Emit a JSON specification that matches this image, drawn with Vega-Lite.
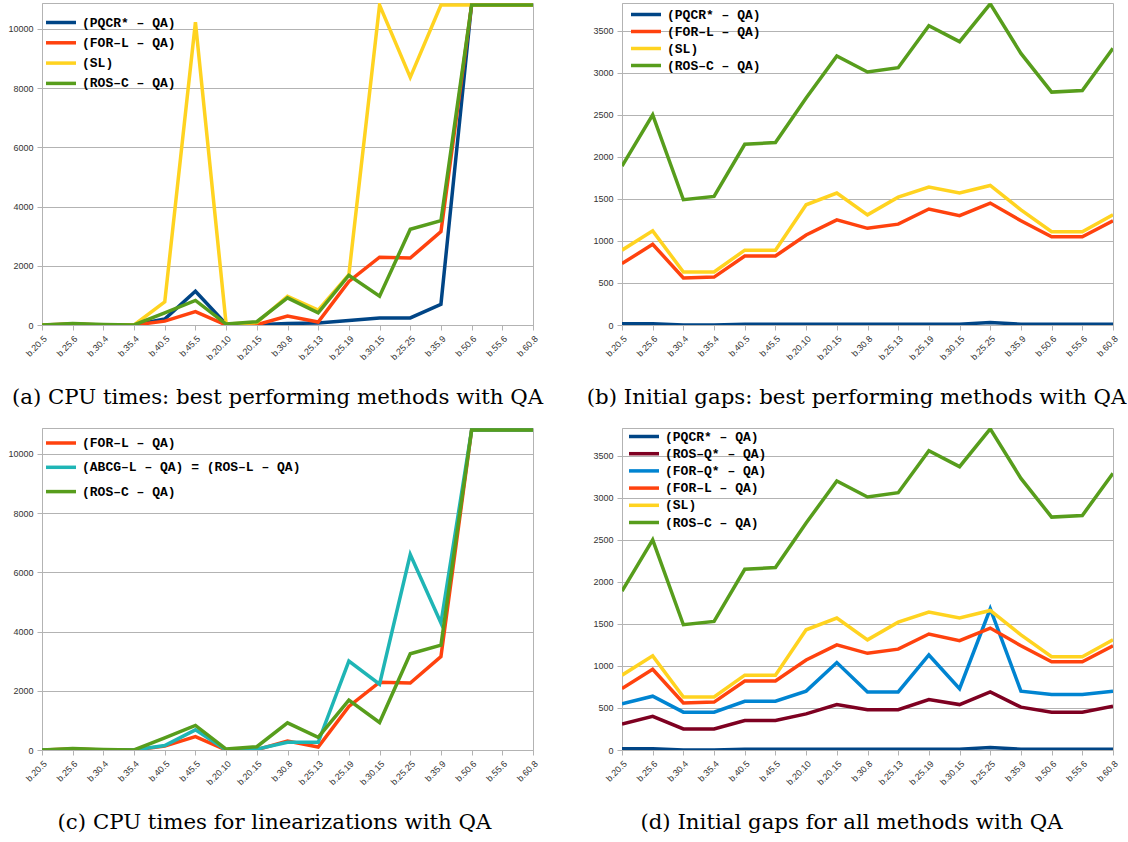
{
"$schema": "https://vega.github.io/schema/vega-lite/v6.json",
"background": "white",
"padding": {"left": 7, "top": 2, "right": 0, "bottom": 5},
"columns": 2,
"spacing": {"row": 103, "column": 89},
"bounds": "flush",
"resolve": {"scale": {"color": "independent", "x": "independent", "y": "independent"}, "legend": {"color": "independent"}},
"datasets": {
"a": [
{"c":"b.20.5","s":"(PQCR* – QA)","v":0},{"c":"b.25.6","s":"(PQCR* – QA)","v":20},{"c":"b.30.4","s":"(PQCR* – QA)","v":0},{"c":"b.35.4","s":"(PQCR* – QA)","v":0},{"c":"b.40.5","s":"(PQCR* – QA)","v":200},{"c":"b.45.5","s":"(PQCR* – QA)","v":1140},{"c":"b.20.10","s":"(PQCR* – QA)","v":30},{"c":"b.20.15","s":"(PQCR* – QA)","v":10},{"c":"b.30.8","s":"(PQCR* – QA)","v":50},{"c":"b.25.13","s":"(PQCR* – QA)","v":70},{"c":"b.25.19","s":"(PQCR* – QA)","v":150},{"c":"b.30.15","s":"(PQCR* – QA)","v":240},{"c":"b.25.25","s":"(PQCR* – QA)","v":240},{"c":"b.35.9","s":"(PQCR* – QA)","v":700},{"c":"b.50.6","s":"(PQCR* – QA)","v":10850},{"c":"b.55.6","s":"(PQCR* – QA)","v":10850},{"c":"b.60.8","s":"(PQCR* – QA)","v":10800},
{"c":"b.20.5","s":"(FOR–L – QA)","v":0},{"c":"b.25.6","s":"(FOR–L – QA)","v":30},{"c":"b.30.4","s":"(FOR–L – QA)","v":0},{"c":"b.35.4","s":"(FOR–L – QA)","v":0},{"c":"b.40.5","s":"(FOR–L – QA)","v":130},{"c":"b.45.5","s":"(FOR–L – QA)","v":450},{"c":"b.20.10","s":"(FOR–L – QA)","v":0},{"c":"b.20.15","s":"(FOR–L – QA)","v":10},{"c":"b.30.8","s":"(FOR–L – QA)","v":300},{"c":"b.25.13","s":"(FOR–L – QA)","v":100},{"c":"b.25.19","s":"(FOR–L – QA)","v":1470},{"c":"b.30.15","s":"(FOR–L – QA)","v":2290},{"c":"b.25.25","s":"(FOR–L – QA)","v":2260},{"c":"b.35.9","s":"(FOR–L – QA)","v":3150},{"c":"b.50.6","s":"(FOR–L – QA)","v":10800},{"c":"b.55.6","s":"(FOR–L – QA)","v":10800},{"c":"b.60.8","s":"(FOR–L – QA)","v":10800},
{"c":"b.20.5","s":"(SL)","v":0},{"c":"b.25.6","s":"(SL)","v":20},{"c":"b.30.4","s":"(SL)","v":0},{"c":"b.35.4","s":"(SL)","v":0},{"c":"b.40.5","s":"(SL)","v":780},{"c":"b.45.5","s":"(SL)","v":10220},{"c":"b.20.10","s":"(SL)","v":30},{"c":"b.20.15","s":"(SL)","v":80},{"c":"b.30.8","s":"(SL)","v":970},{"c":"b.25.13","s":"(SL)","v":500},{"c":"b.25.19","s":"(SL)","v":1700},{"c":"b.30.15","s":"(SL)","v":10800},{"c":"b.25.25","s":"(SL)","v":8360},{"c":"b.35.9","s":"(SL)","v":10800},{"c":"b.50.6","s":"(SL)","v":10800},{"c":"b.55.6","s":"(SL)","v":10800},{"c":"b.60.8","s":"(SL)","v":10800},
{"c":"b.20.5","s":"(ROS–C – QA)","v":0},{"c":"b.25.6","s":"(ROS–C – QA)","v":50},{"c":"b.30.4","s":"(ROS–C – QA)","v":20},{"c":"b.35.4","s":"(ROS–C – QA)","v":0},{"c":"b.40.5","s":"(ROS–C – QA)","v":410},{"c":"b.45.5","s":"(ROS–C – QA)","v":830},{"c":"b.20.10","s":"(ROS–C – QA)","v":30},{"c":"b.20.15","s":"(ROS–C – QA)","v":110},{"c":"b.30.8","s":"(ROS–C – QA)","v":915},{"c":"b.25.13","s":"(ROS–C – QA)","v":410},{"c":"b.25.19","s":"(ROS–C – QA)","v":1680},{"c":"b.30.15","s":"(ROS–C – QA)","v":975},{"c":"b.25.25","s":"(ROS–C – QA)","v":3230},{"c":"b.35.9","s":"(ROS–C – QA)","v":3520},{"c":"b.50.6","s":"(ROS–C – QA)","v":10800},{"c":"b.55.6","s":"(ROS–C – QA)","v":10800},{"c":"b.60.8","s":"(ROS–C – QA)","v":10800}
],
"b": [
{"c":"b.20.5","s":"(PQCR* – QA)","v":15},{"c":"b.25.6","s":"(PQCR* – QA)","v":15},{"c":"b.30.4","s":"(PQCR* – QA)","v":0},{"c":"b.35.4","s":"(PQCR* – QA)","v":0},{"c":"b.40.5","s":"(PQCR* – QA)","v":10},{"c":"b.45.5","s":"(PQCR* – QA)","v":10},{"c":"b.20.10","s":"(PQCR* – QA)","v":10},{"c":"b.20.15","s":"(PQCR* – QA)","v":10},{"c":"b.30.8","s":"(PQCR* – QA)","v":10},{"c":"b.25.13","s":"(PQCR* – QA)","v":10},{"c":"b.25.19","s":"(PQCR* – QA)","v":10},{"c":"b.30.15","s":"(PQCR* – QA)","v":10},{"c":"b.25.25","s":"(PQCR* – QA)","v":30},{"c":"b.35.9","s":"(PQCR* – QA)","v":10},{"c":"b.50.6","s":"(PQCR* – QA)","v":10},{"c":"b.55.6","s":"(PQCR* – QA)","v":10},{"c":"b.60.8","s":"(PQCR* – QA)","v":10},
{"c":"b.20.5","s":"(FOR–L – QA)","v":730},{"c":"b.25.6","s":"(FOR–L – QA)","v":960},{"c":"b.30.4","s":"(FOR–L – QA)","v":560},{"c":"b.35.4","s":"(FOR–L – QA)","v":570},{"c":"b.40.5","s":"(FOR–L – QA)","v":820},{"c":"b.45.5","s":"(FOR–L – QA)","v":820},{"c":"b.20.10","s":"(FOR–L – QA)","v":1070},{"c":"b.20.15","s":"(FOR–L – QA)","v":1250},{"c":"b.30.8","s":"(FOR–L – QA)","v":1150},{"c":"b.25.13","s":"(FOR–L – QA)","v":1200},{"c":"b.25.19","s":"(FOR–L – QA)","v":1380},{"c":"b.30.15","s":"(FOR–L – QA)","v":1300},{"c":"b.25.25","s":"(FOR–L – QA)","v":1450},{"c":"b.35.9","s":"(FOR–L – QA)","v":1240},{"c":"b.50.6","s":"(FOR–L – QA)","v":1050},{"c":"b.55.6","s":"(FOR–L – QA)","v":1050},{"c":"b.60.8","s":"(FOR–L – QA)","v":1240},
{"c":"b.20.5","s":"(SL)","v":890},{"c":"b.25.6","s":"(SL)","v":1120},{"c":"b.30.4","s":"(SL)","v":630},{"c":"b.35.4","s":"(SL)","v":630},{"c":"b.40.5","s":"(SL)","v":890},{"c":"b.45.5","s":"(SL)","v":890},{"c":"b.20.10","s":"(SL)","v":1430},{"c":"b.20.15","s":"(SL)","v":1570},{"c":"b.30.8","s":"(SL)","v":1310},{"c":"b.25.13","s":"(SL)","v":1520},{"c":"b.25.19","s":"(SL)","v":1640},{"c":"b.30.15","s":"(SL)","v":1570},{"c":"b.25.25","s":"(SL)","v":1660},{"c":"b.35.9","s":"(SL)","v":1370},{"c":"b.50.6","s":"(SL)","v":1110},{"c":"b.55.6","s":"(SL)","v":1110},{"c":"b.60.8","s":"(SL)","v":1310},
{"c":"b.20.5","s":"(ROS–C – QA)","v":1890},{"c":"b.25.6","s":"(ROS–C – QA)","v":2500},{"c":"b.30.4","s":"(ROS–C – QA)","v":1490},{"c":"b.35.4","s":"(ROS–C – QA)","v":1530},{"c":"b.40.5","s":"(ROS–C – QA)","v":2150},{"c":"b.45.5","s":"(ROS–C – QA)","v":2170},{"c":"b.20.10","s":"(ROS–C – QA)","v":2700},{"c":"b.20.15","s":"(ROS–C – QA)","v":3200},{"c":"b.30.8","s":"(ROS–C – QA)","v":3010},{"c":"b.25.13","s":"(ROS–C – QA)","v":3060},{"c":"b.25.19","s":"(ROS–C – QA)","v":3560},{"c":"b.30.15","s":"(ROS–C – QA)","v":3370},{"c":"b.25.25","s":"(ROS–C – QA)","v":3820},{"c":"b.35.9","s":"(ROS–C – QA)","v":3230},{"c":"b.50.6","s":"(ROS–C – QA)","v":2770},{"c":"b.55.6","s":"(ROS–C – QA)","v":2790},{"c":"b.60.8","s":"(ROS–C – QA)","v":3290}
],
"c": [
{"c":"b.20.5","s":"(FOR–L – QA)","v":0},{"c":"b.25.6","s":"(FOR–L – QA)","v":30},{"c":"b.30.4","s":"(FOR–L – QA)","v":0},{"c":"b.35.4","s":"(FOR–L – QA)","v":0},{"c":"b.40.5","s":"(FOR–L – QA)","v":130},{"c":"b.45.5","s":"(FOR–L – QA)","v":450},{"c":"b.20.10","s":"(FOR–L – QA)","v":0},{"c":"b.20.15","s":"(FOR–L – QA)","v":10},{"c":"b.30.8","s":"(FOR–L – QA)","v":300},{"c":"b.25.13","s":"(FOR–L – QA)","v":100},{"c":"b.25.19","s":"(FOR–L – QA)","v":1470},{"c":"b.30.15","s":"(FOR–L – QA)","v":2290},{"c":"b.25.25","s":"(FOR–L – QA)","v":2260},{"c":"b.35.9","s":"(FOR–L – QA)","v":3150},{"c":"b.50.6","s":"(FOR–L – QA)","v":10800},{"c":"b.55.6","s":"(FOR–L – QA)","v":10800},{"c":"b.60.8","s":"(FOR–L – QA)","v":10800},
{"c":"b.20.5","s":"(ABCG–L – QA) = (ROS–L – QA)","v":0},{"c":"b.25.6","s":"(ABCG–L – QA) = (ROS–L – QA)","v":0},{"c":"b.30.4","s":"(ABCG–L – QA) = (ROS–L – QA)","v":0},{"c":"b.35.4","s":"(ABCG–L – QA) = (ROS–L – QA)","v":0},{"c":"b.40.5","s":"(ABCG–L – QA) = (ROS–L – QA)","v":150},{"c":"b.45.5","s":"(ABCG–L – QA) = (ROS–L – QA)","v":680},{"c":"b.20.10","s":"(ABCG–L – QA) = (ROS–L – QA)","v":0},{"c":"b.20.15","s":"(ABCG–L – QA) = (ROS–L – QA)","v":30},{"c":"b.30.8","s":"(ABCG–L – QA) = (ROS–L – QA)","v":260},{"c":"b.25.13","s":"(ABCG–L – QA) = (ROS–L – QA)","v":260},{"c":"b.25.19","s":"(ABCG–L – QA) = (ROS–L – QA)","v":3000},{"c":"b.30.15","s":"(ABCG–L – QA) = (ROS–L – QA)","v":2220},{"c":"b.25.25","s":"(ABCG–L – QA) = (ROS–L – QA)","v":6600},{"c":"b.35.9","s":"(ABCG–L – QA) = (ROS–L – QA)","v":4290},{"c":"b.50.6","s":"(ABCG–L – QA) = (ROS–L – QA)","v":10800},{"c":"b.55.6","s":"(ABCG–L – QA) = (ROS–L – QA)","v":10800},{"c":"b.60.8","s":"(ABCG–L – QA) = (ROS–L – QA)","v":10800},
{"c":"b.20.5","s":"(ROS–C – QA)","v":0},{"c":"b.25.6","s":"(ROS–C – QA)","v":50},{"c":"b.30.4","s":"(ROS–C – QA)","v":20},{"c":"b.35.4","s":"(ROS–C – QA)","v":0},{"c":"b.40.5","s":"(ROS–C – QA)","v":410},{"c":"b.45.5","s":"(ROS–C – QA)","v":830},{"c":"b.20.10","s":"(ROS–C – QA)","v":30},{"c":"b.20.15","s":"(ROS–C – QA)","v":110},{"c":"b.30.8","s":"(ROS–C – QA)","v":915},{"c":"b.25.13","s":"(ROS–C – QA)","v":430},{"c":"b.25.19","s":"(ROS–C – QA)","v":1685},{"c":"b.30.15","s":"(ROS–C – QA)","v":930},{"c":"b.25.25","s":"(ROS–C – QA)","v":3250},{"c":"b.35.9","s":"(ROS–C – QA)","v":3540},{"c":"b.50.6","s":"(ROS–C – QA)","v":10800},{"c":"b.55.6","s":"(ROS–C – QA)","v":10800},{"c":"b.60.8","s":"(ROS–C – QA)","v":10800}
],
"d": [
{"c":"b.20.5","s":"(PQCR* – QA)","v":15},{"c":"b.25.6","s":"(PQCR* – QA)","v":15},{"c":"b.30.4","s":"(PQCR* – QA)","v":0},{"c":"b.35.4","s":"(PQCR* – QA)","v":0},{"c":"b.40.5","s":"(PQCR* – QA)","v":10},{"c":"b.45.5","s":"(PQCR* – QA)","v":10},{"c":"b.20.10","s":"(PQCR* – QA)","v":10},{"c":"b.20.15","s":"(PQCR* – QA)","v":10},{"c":"b.30.8","s":"(PQCR* – QA)","v":10},{"c":"b.25.13","s":"(PQCR* – QA)","v":10},{"c":"b.25.19","s":"(PQCR* – QA)","v":10},{"c":"b.30.15","s":"(PQCR* – QA)","v":10},{"c":"b.25.25","s":"(PQCR* – QA)","v":30},{"c":"b.35.9","s":"(PQCR* – QA)","v":10},{"c":"b.50.6","s":"(PQCR* – QA)","v":10},{"c":"b.55.6","s":"(PQCR* – QA)","v":10},{"c":"b.60.8","s":"(PQCR* – QA)","v":10},
{"c":"b.20.5","s":"(ROS–Q* – QA)","v":310},{"c":"b.25.6","s":"(ROS–Q* – QA)","v":400},{"c":"b.30.4","s":"(ROS–Q* – QA)","v":250},{"c":"b.35.4","s":"(ROS–Q* – QA)","v":250},{"c":"b.40.5","s":"(ROS–Q* – QA)","v":350},{"c":"b.45.5","s":"(ROS–Q* – QA)","v":350},{"c":"b.20.10","s":"(ROS–Q* – QA)","v":430},{"c":"b.20.15","s":"(ROS–Q* – QA)","v":540},{"c":"b.30.8","s":"(ROS–Q* – QA)","v":480},{"c":"b.25.13","s":"(ROS–Q* – QA)","v":480},{"c":"b.25.19","s":"(ROS–Q* – QA)","v":600},{"c":"b.30.15","s":"(ROS–Q* – QA)","v":540},{"c":"b.25.25","s":"(ROS–Q* – QA)","v":690},{"c":"b.35.9","s":"(ROS–Q* – QA)","v":510},{"c":"b.50.6","s":"(ROS–Q* – QA)","v":450},{"c":"b.55.6","s":"(ROS–Q* – QA)","v":450},{"c":"b.60.8","s":"(ROS–Q* – QA)","v":520},
{"c":"b.20.5","s":"(FOR–Q* – QA)","v":550},{"c":"b.25.6","s":"(FOR–Q* – QA)","v":640},{"c":"b.30.4","s":"(FOR–Q* – QA)","v":450},{"c":"b.35.4","s":"(FOR–Q* – QA)","v":450},{"c":"b.40.5","s":"(FOR–Q* – QA)","v":580},{"c":"b.45.5","s":"(FOR–Q* – QA)","v":580},{"c":"b.20.10","s":"(FOR–Q* – QA)","v":700},{"c":"b.20.15","s":"(FOR–Q* – QA)","v":1040},{"c":"b.30.8","s":"(FOR–Q* – QA)","v":690},{"c":"b.25.13","s":"(FOR–Q* – QA)","v":690},{"c":"b.25.19","s":"(FOR–Q* – QA)","v":1130},{"c":"b.30.15","s":"(FOR–Q* – QA)","v":730},{"c":"b.25.25","s":"(FOR–Q* – QA)","v":1680},{"c":"b.35.9","s":"(FOR–Q* – QA)","v":700},{"c":"b.50.6","s":"(FOR–Q* – QA)","v":660},{"c":"b.55.6","s":"(FOR–Q* – QA)","v":660},{"c":"b.60.8","s":"(FOR–Q* – QA)","v":700},
{"c":"b.20.5","s":"(FOR–L – QA)","v":730},{"c":"b.25.6","s":"(FOR–L – QA)","v":960},{"c":"b.30.4","s":"(FOR–L – QA)","v":560},{"c":"b.35.4","s":"(FOR–L – QA)","v":570},{"c":"b.40.5","s":"(FOR–L – QA)","v":820},{"c":"b.45.5","s":"(FOR–L – QA)","v":820},{"c":"b.20.10","s":"(FOR–L – QA)","v":1070},{"c":"b.20.15","s":"(FOR–L – QA)","v":1250},{"c":"b.30.8","s":"(FOR–L – QA)","v":1150},{"c":"b.25.13","s":"(FOR–L – QA)","v":1200},{"c":"b.25.19","s":"(FOR–L – QA)","v":1380},{"c":"b.30.15","s":"(FOR–L – QA)","v":1300},{"c":"b.25.25","s":"(FOR–L – QA)","v":1450},{"c":"b.35.9","s":"(FOR–L – QA)","v":1240},{"c":"b.50.6","s":"(FOR–L – QA)","v":1050},{"c":"b.55.6","s":"(FOR–L – QA)","v":1050},{"c":"b.60.8","s":"(FOR–L – QA)","v":1240},
{"c":"b.20.5","s":"(SL)","v":890},{"c":"b.25.6","s":"(SL)","v":1120},{"c":"b.30.4","s":"(SL)","v":630},{"c":"b.35.4","s":"(SL)","v":630},{"c":"b.40.5","s":"(SL)","v":890},{"c":"b.45.5","s":"(SL)","v":890},{"c":"b.20.10","s":"(SL)","v":1430},{"c":"b.20.15","s":"(SL)","v":1570},{"c":"b.30.8","s":"(SL)","v":1310},{"c":"b.25.13","s":"(SL)","v":1520},{"c":"b.25.19","s":"(SL)","v":1640},{"c":"b.30.15","s":"(SL)","v":1570},{"c":"b.25.25","s":"(SL)","v":1660},{"c":"b.35.9","s":"(SL)","v":1370},{"c":"b.50.6","s":"(SL)","v":1110},{"c":"b.55.6","s":"(SL)","v":1110},{"c":"b.60.8","s":"(SL)","v":1310},
{"c":"b.20.5","s":"(ROS–C – QA)","v":1890},{"c":"b.25.6","s":"(ROS–C – QA)","v":2500},{"c":"b.30.4","s":"(ROS–C – QA)","v":1490},{"c":"b.35.4","s":"(ROS–C – QA)","v":1530},{"c":"b.40.5","s":"(ROS–C – QA)","v":2150},{"c":"b.45.5","s":"(ROS–C – QA)","v":2170},{"c":"b.20.10","s":"(ROS–C – QA)","v":2700},{"c":"b.20.15","s":"(ROS–C – QA)","v":3200},{"c":"b.30.8","s":"(ROS–C – QA)","v":3010},{"c":"b.25.13","s":"(ROS–C – QA)","v":3060},{"c":"b.25.19","s":"(ROS–C – QA)","v":3560},{"c":"b.30.15","s":"(ROS–C – QA)","v":3370},{"c":"b.25.25","s":"(ROS–C – QA)","v":3820},{"c":"b.35.9","s":"(ROS–C – QA)","v":3230},{"c":"b.50.6","s":"(ROS–C – QA)","v":2770},{"c":"b.55.6","s":"(ROS–C – QA)","v":2790},{"c":"b.60.8","s":"(ROS–C – QA)","v":3290}
]
},
"concat": [
{
"width": 491, "height": 322,
"data": {"name": "a"},
"title": {"text": "(a) CPU times: best performing methods with QA", "dx": -10},
"mark": {"type": "line", "strokeWidth": 3.5, "clip": true, "strokeJoin": "miter"},
"encoding": {
"x": {"field": "c", "type": "ordinal", "sort": null, "scale": {"type": "point", "padding": 0}, "axis": {"title": null, "labelAngle": -45}},
"y": {"field": "v", "type": "quantitative", "scale": {"domain": [0, 10870], "nice": false}, "axis": {"title": null, "format": "d", "values": [0, 2000, 4000, 6000, 8000, 10000]}},
"color": {"field": "s", "type": "nominal", "scale": {"domain": ["(PQCR* – QA)", "(FOR–L – QA)", "(SL)", "(ROS–C – QA)"], "range": ["#004586", "#ff420e", "#ffd320", "#579d1c"]}, "legend": {"title": null, "orient": "none", "legendX": 2, "legendY": 12.5, "rowPadding": 6.3, "symbolType": "M-1,0H5", "symbolSize": 100, "symbolStrokeWidth": 3.5}},
"order": {"value": null}
}
},
{
"width": 491, "height": 322,
"data": {"name": "b"},
"title": {"text": "(b) Initial gaps: best performing methods with QA", "dx": -11},
"mark": {"type": "line", "strokeWidth": 3.5, "clip": true, "strokeJoin": "miter"},
"encoding": {
"x": {"field": "c", "type": "ordinal", "sort": null, "scale": {"type": "point", "padding": 0}, "axis": {"title": null, "labelAngle": -45}},
"y": {"field": "v", "type": "quantitative", "scale": {"domain": [0, 3830], "nice": false}, "axis": {"title": null, "format": "d", "values": [0, 500, 1000, 1500, 2000, 2500, 3000, 3500]}},
"color": {"field": "s", "type": "nominal", "scale": {"domain": ["(PQCR* – QA)", "(FOR–L – QA)", "(SL)", "(ROS–C – QA)"], "range": ["#004586", "#ff420e", "#ffd320", "#579d1c"]}, "legend": {"title": null, "orient": "none", "legendX": 7, "legendY": 4.5, "rowPadding": 3, "symbolType": "M-1,0H5", "symbolSize": 100, "symbolStrokeWidth": 3.5}},
"order": {"value": null}
}
},
{
"width": 491, "height": 322,
"data": {"name": "c"},
"title": {"text": "(c) CPU times for linearizations with QA", "dx": -13},
"mark": {"type": "line", "strokeWidth": 3.5, "clip": true, "strokeJoin": "miter"},
"encoding": {
"x": {"field": "c", "type": "ordinal", "sort": null, "scale": {"type": "point", "padding": 0}, "axis": {"title": null, "labelAngle": -45}},
"y": {"field": "v", "type": "quantitative", "scale": {"domain": [0, 10870], "nice": false}, "axis": {"title": null, "format": "d", "values": [0, 2000, 4000, 6000, 8000, 10000]}},
"color": {"field": "s", "type": "nominal", "scale": {"domain": ["(FOR–L – QA)", "(ABCG–L – QA) = (ROS–L – QA)", "(ROS–C – QA)"], "range": ["#ff420e", "#1fb5b5", "#579d1c"]}, "legend": {"title": null, "orient": "none", "legendX": 2, "legendY": 8, "rowPadding": 10.3, "symbolType": "M-1,0H5", "symbolSize": 100, "symbolStrokeWidth": 3.5}},
"order": {"value": null}
}
},
{
"width": 491, "height": 322,
"data": {"name": "d"},
"title": {"text": "(d) Initial gaps for all methods with QA", "dx": -16},
"mark": {"type": "line", "strokeWidth": 3.5, "clip": true, "strokeJoin": "miter"},
"encoding": {
"x": {"field": "c", "type": "ordinal", "sort": null, "scale": {"type": "point", "padding": 0}, "axis": {"title": null, "labelAngle": -45}},
"y": {"field": "v", "type": "quantitative", "scale": {"domain": [0, 3830], "nice": false}, "axis": {"title": null, "format": "d", "values": [0, 500, 1000, 1500, 2000, 2500, 3000, 3500]}},
"color": {"field": "s", "type": "nominal", "scale": {"domain": ["(PQCR* – QA)", "(ROS–Q* – QA)", "(FOR–Q* – QA)", "(FOR–L – QA)", "(SL)", "(ROS–C – QA)"], "range": ["#004586", "#7e0021", "#0084d1", "#ff420e", "#ffd320", "#579d1c"]}, "legend": {"title": null, "orient": "none", "legendX": 5, "legendY": 1.5, "rowPadding": 3.2, "symbolType": "M-1,0H5", "symbolSize": 100, "symbolStrokeWidth": 3.5}},
"order": {"value": null}
}
}
],
"config": {
"font": "Liberation Sans",
"view": {"stroke": "#b3b3b3", "strokeWidth": 1},
"axis": {"labelFont": "Liberation Sans", "labelFontSize": 9, "labelColor": "#333333", "domainColor": "#b3b3b3", "tickColor": "#b3b3b3", "gridColor": "#b3b3b3", "tickSize": 5, "labelPadding": 4},
"axisX": {"grid": false},
"axisY": {"grid": true},
"legend": {"labelFont": "Liberation Mono", "labelFontWeight": "bold", "labelFontSize": 13, "labelColor": "#000000", "labelOffset": 24, "padding": 0, "labelLimit": 0},
"title": {"font": "DejaVu Serif", "fontSize": 21.3, "fontWeight": "normal", "color": "#000000", "orient": "bottom", "offset": 25, "anchor": "middle"}
}
}
